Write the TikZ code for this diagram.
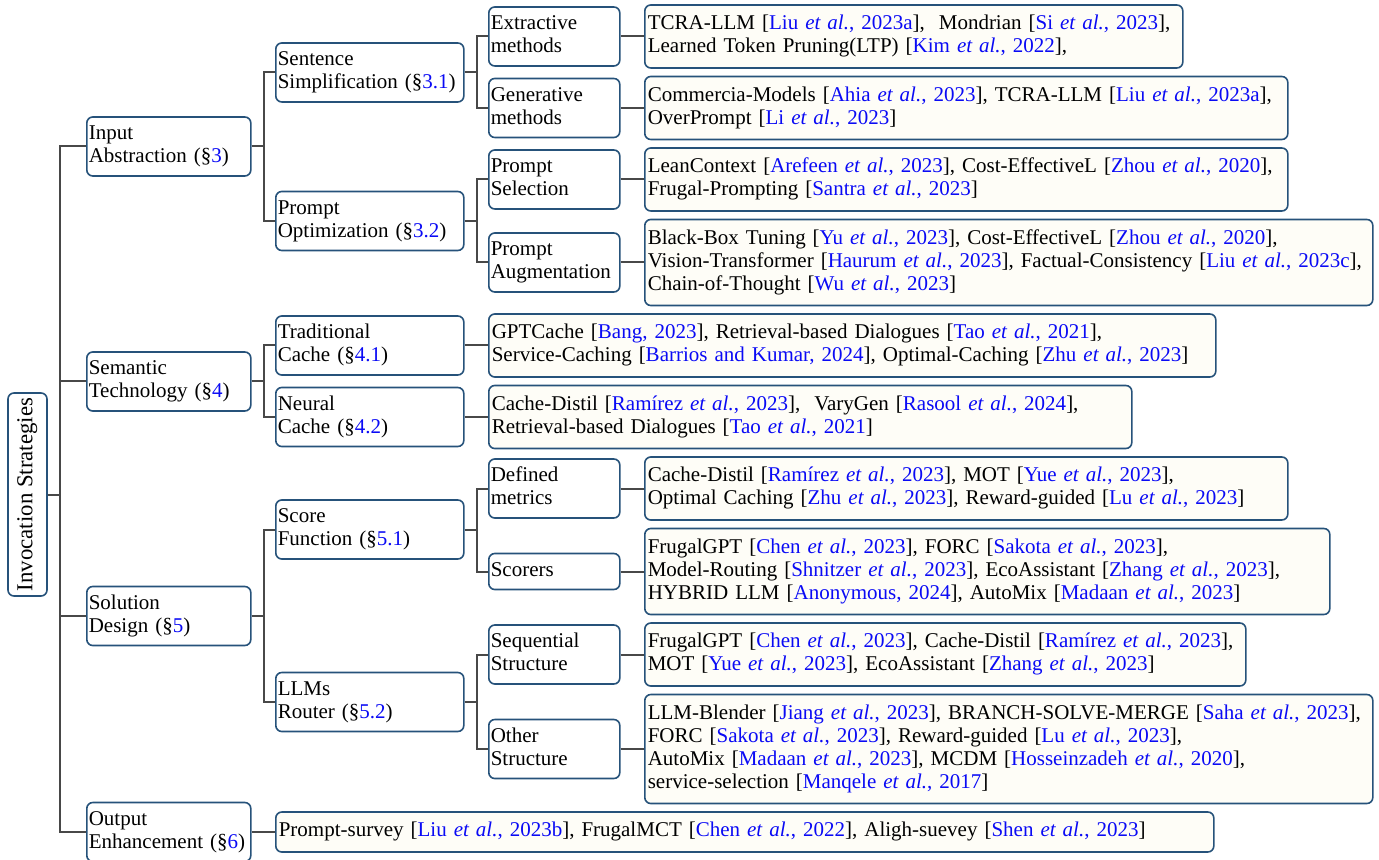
\documentclass[tikz,border=0pt]{standalone}
\usepackage{fontspec}
\setmainfont{Liberation Serif}
\definecolor{boxblue}{RGB}{38,82,122}
\definecolor{linkgray}{RGB}{72,72,72}
\definecolor{leafcream}{RGB}{254,253,247}
\definecolor{citeblue}{RGB}{10,10,245}
\newcommand{\ct}[2]{[\textcolor{citeblue}{#1 \textit{et al.}, #2}]}
\newcommand{\cn}[1]{[\textcolor{citeblue}{#1}]}
\newcommand{\sref}[1]{(\S\textcolor{citeblue}{#1})}
\tikzset{
 base/.style={draw=boxblue, line width=0.8pt, rounded corners=3pt, align=left,
  execute at begin node=\strut, execute at end node=\strut},
 cat/.style={base, fill=white, anchor=west, inner xsep=1pt, inner ysep=3.25pt},
 leaf/.style={base, fill=leafcream, anchor=west, inner xsep=1.5pt, inner ysep=4.25pt},
 link/.style={draw=linkgray, line width=1pt},
 elbow/.style={to path={-- ++(6pt,0) |- (\tikztotarget)}},
}
\begin{document}
\begin{tikzpicture}[x=0.5pt, y=-0.5pt, font=\fontsize{10.5}{11.5}\selectfont]
 \useasboundingbox (0,0) rectangle (1379,860);

 \node[base, fill=white, rotate=90, minimum width=101.5pt, minimum height=19.5pt, inner sep=0pt,
  font=\fontsize{11.4}{12}\selectfont] (root) at (27.5,494.5) {Invocation Strategies};

 \node[cat, text width=80pt] (inp) at (86,146.5) {Input\\Abstraction \sref{3}};
 \node[cat, text width=80pt] (sem) at (86,381.5) {Semantic\\Technology \sref{4}};
 \node[cat, text width=80pt] (sol) at (86,616) {Solution\\Design \sref{5}};
 \node[cat, text width=80pt] (out) at (86,832) {Output\\Enhancement \sref{6}};

 \node[cat, text width=92pt] (sent) at (275,72.5) {Sentence\\Simplification \sref{3.1}};
 \node[cat, text width=92pt] (popt) at (275,221) {Prompt\\Optimization \sref{3.2}};
 \node[cat, text width=92pt] (tcache) at (275,345.5) {Traditional\\Cache \sref{4.1}};
 \node[cat, text width=92pt] (ncache) at (275,417) {Neural\\Cache \sref{4.2}};
 \node[cat, text width=92pt] (score) at (275,529.5) {Score\\Function \sref{5.1}};
 \node[cat, text width=92pt] (router) at (275,702) {LLMs\\Router \sref{5.2}};

 \node[cat, text width=63.5pt] (extr) at (488,36.5) {Extractive\\methods};
 \node[cat, text width=63.5pt] (gener) at (488,108) {Generative\\methods};
 \node[cat, text width=63.5pt] (psel) at (488,179.5) {Prompt\\Selection};
 \node[cat, text width=63.5pt] (paug) at (488,262.5) {Prompt\\Augmentation};
 \node[cat, text width=63.5pt] (defm) at (488,488.5) {Defined\\metrics};
 \node[cat, text width=63.5pt] (scor) at (488,571.5) {Scorers};
 \node[cat, text width=63.5pt] (seqs) at (488,654.5) {Sequential\\Structure};
 \node[cat, text width=63.5pt] (oths) at (488,749) {Other\\Structure};

 \node[leaf, text width=266pt] (extrL) at (644,36.5) {TCRA-LLM \ct{Liu}{2023a},\ \ Mondrian \ct{Si}{2023},\\Learned Token Pruning(LTP) \ct{Kim}{2022},};
 \node[leaf, text width=318.5pt] (generL) at (644,108) {Commercia-Models \ct{Ahia}{2023}, TCRA-LLM \ct{Liu}{2023a},\\OverPrompt \ct{Li}{2023}};
 \node[leaf, text width=318.5pt] (pselL) at (644,179.5) {LeanContext \ct{Arefeen}{2023}, Cost-EffectiveL \ct{Zhou}{2020},\\Frugal-Prompting \ct{Santra}{2023}};
 \node[leaf, text width=361pt] (paugL) at (644,262.5) {Black-Box Tuning \ct{Yu}{2023}, Cost-EffectiveL \ct{Zhou}{2020},\\Vision-Transformer \ct{Haurum}{2023}, Factual-Consistency \ct{Liu}{2023c},\\Chain-of-Thought \ct{Wu}{2023}};
 \node[leaf, text width=360.5pt] (tcacheL) at (488,345.5) {GPTCache \cn{Bang, 2023}, Retrieval-based Dialogues \ct{Tao}{2021},\\Service-Caching \cn{Barrios and Kumar, 2024}, Optimal-Caching \ct{Zhu}{2023}};
 \node[leaf, text width=318.5pt] (ncacheL) at (488,417) {Cache-Distil \ct{Ramírez}{2023},\ \ VaryGen \ct{Rasool}{2024},\\Retrieval-based Dialogues \ct{Tao}{2021}};
 \node[leaf, text width=318.5pt] (defmL) at (644,488.5) {Cache-Distil \ct{Ramírez}{2023}, MOT \ct{Yue}{2023},\\Optimal Caching \ct{Zhu}{2023}, Reward-guided \ct{Lu}{2023}};
 \node[leaf, text width=339.5pt] (scorL) at (644,571.5) {FrugalGPT \ct{Chen}{2023}, FORC \ct{Sakota}{2023},\\Model-Routing \ct{Shnitzer}{2023}, EcoAssistant \ct{Zhang}{2023},\\HYBRID LLM \cn{Anonymous, 2024}, AutoMix \ct{Madaan}{2023}};
 \node[leaf, text width=297.5pt] (seqsL) at (644,654.5) {FrugalGPT \ct{Chen}{2023}, Cache-Distil \ct{Ramírez}{2023},\\MOT \ct{Yue}{2023}, EcoAssistant \ct{Zhang}{2023}};
 \node[leaf, text width=361pt] (othsL) at (644,749) {LLM-Blender \ct{Jiang}{2023}, BRANCH-SOLVE-MERGE \ct{Saha}{2023},\\FORC \ct{Sakota}{2023}, Reward-guided \ct{Lu}{2023},\\AutoMix \ct{Madaan}{2023}, MCDM \ct{Hosseinzadeh}{2020},\\service-selection \ct{Manqele}{2017}};
 \node[leaf, text width=466pt] (outL) at (275,832) {Prompt-survey \ct{Liu}{2023b}, FrugalMCT \ct{Chen}{2022}, Aligh-suevey \ct{Shen}{2023}};

 \path [link] (root.south) edge[elbow] (inp.west);
 \path [link] (root.south) edge[elbow] (sem.west);
 \path [link] (root.south) edge[elbow] (sol.west);
 \path [link] (root.south) edge[elbow] (out.west);
 \path [link] (inp.east) edge[elbow] (sent.west);
 \path [link] (inp.east) edge[elbow] (popt.west);
 \path [link] (sem.east) edge[elbow] (tcache.west);
 \path [link] (sem.east) edge[elbow] (ncache.west);
 \path [link] (sol.east) edge[elbow] (score.west);
 \path [link] (sol.east) edge[elbow] (router.west);
 \path [link] (sent.east) edge[elbow] (extr.west);
 \path [link] (sent.east) edge[elbow] (gener.west);
 \path [link] (popt.east) edge[elbow] (psel.west);
 \path [link] (popt.east) edge[elbow] (paug.west);
 \path [link] (score.east) edge[elbow] (defm.west);
 \path [link] (score.east) edge[elbow] (scor.west);
 \path [link] (router.east) edge[elbow] (seqs.west);
 \path [link] (router.east) edge[elbow] (oths.west);
 \path [link] (extr) edge (extrL);
 \path [link] (gener) edge (generL);
 \path [link] (psel) edge (pselL);
 \path [link] (paug) edge (paugL);
 \path [link] (tcache) edge (tcacheL);
 \path [link] (ncache) edge (ncacheL);
 \path [link] (defm) edge (defmL);
 \path [link] (scor) edge (scorL);
 \path [link] (seqs) edge (seqsL);
 \path [link] (oths) edge (othsL);
 \path [link] (out) edge (outL);
\end{tikzpicture}
\end{document}
